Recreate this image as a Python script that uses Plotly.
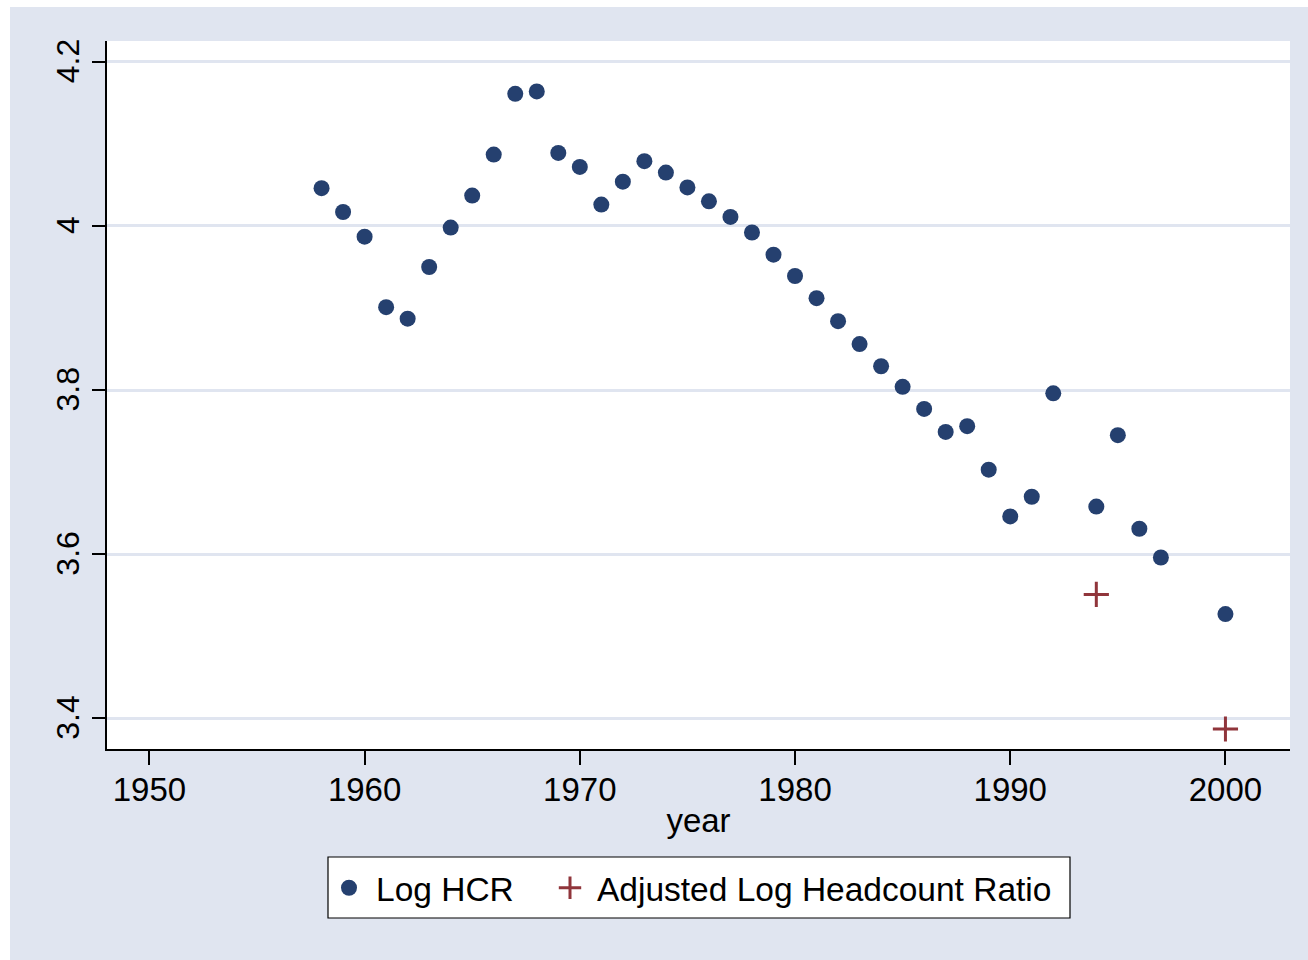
import plotly.graph_objects as go

# ---- data ----
years = [1958, 1959, 1960, 1961, 1962, 1963, 1964, 1965, 1966, 1967, 1968, 1969,
         1970, 1971, 1972, 1973, 1974, 1975, 1976, 1977, 1978, 1979, 1980, 1981,
         1982, 1983, 1984, 1985, 1986, 1987, 1988, 1989, 1990, 1991, 1992, 1994,
         1995, 1996, 1997, 2000]
log_hcr = [4.046, 4.017, 3.987, 3.901, 3.887, 3.950, 3.998, 4.037, 4.087, 4.161,
           4.164, 4.089, 4.072, 4.026, 4.054, 4.079, 4.065, 4.047, 4.030, 4.011,
           3.992, 3.965, 3.939, 3.912, 3.884, 3.856, 3.829, 3.804, 3.777, 3.749,
           3.756, 3.703, 3.646, 3.670, 3.796, 3.658, 3.745, 3.631, 3.596, 3.527]
adj_years = [1994, 2000]
adj_log_hcr = [3.551, 3.387]

x_ticks = [1950, 1960, 1970, 1980, 1990, 2000]
y_ticks = [3.4, 3.6, 3.8, 4.0, 4.2]
y_ticktext = ["3.4", "3.6", "3.8", "4", "4.2"]

# ---- style ----
W, H = 1308, 960
ML, MR, MT, MB = 107, 18, 41, 211
PW, PH = W - ML - MR, H - MT - MB
BG = "#E0E5F0"
NAVY = "#25406F"
CRAN = "#90353B"
FONT = "Liberation Sans, Arial, sans-serif"

def px2x(px):
    return (px - ML) / PW

def py2y(py):
    return (H - MB - py) / PH

fig = go.Figure()
fig.add_trace(go.Scatter(
    x=years, y=log_hcr, mode="markers", name="Log HCR", legend="legend",
    marker=dict(symbol="circle", size=16, color=NAVY, line=dict(width=0)),
))
fig.add_trace(go.Scatter(
    x=adj_years, y=adj_log_hcr, mode="markers", name="Adjusted Log Headcount Ratio",
    legend="legend2",
    marker=dict(symbol="cross-thin", size=18, color=CRAN,
                line=dict(width=3, color=CRAN)),
))

leg_common = dict(
    orientation="h", yanchor="middle", y=py2y(888), xanchor="left",
    bgcolor="rgba(0,0,0,0)", borderwidth=0,
    font=dict(family=FONT, size=33.5, color="black"), itemwidth=44,
)

fig.update_layout(
    width=W, height=H, autosize=False,
    margin=dict(l=ML, r=MR, t=MT, b=MB, pad=0),
    paper_bgcolor=BG, plot_bgcolor="white",
    font=dict(family=FONT, size=33, color="black"),
    showlegend=True,
    legend=dict(x=px2x(322), **leg_common),
    legend2=dict(x=px2x(543), **leg_common),
    xaxis=dict(
        range=[1948.03, 2003.0], tickmode="array", tickvals=x_ticks,
        ticks="outside", ticklen=14, tickwidth=1.5, tickcolor="black",
        showline=True, linecolor="black", linewidth=1.5, mirror=False,
        showgrid=False, zeroline=False,
        tickfont=dict(size=33), ticklabelstandoff=-3,
        title=dict(text="year", font=dict(size=33), standoff=2),
    ),
    yaxis=dict(
        range=[3.3626, 4.2254], tickmode="array", tickvals=y_ticks, ticktext=y_ticktext,
        tickangle=-90, ticklabelshift=4,
        ticks="outside", ticklen=13, tickwidth=1.5, tickcolor="black",
        showline=True, linecolor="black", linewidth=1.5, mirror=False,
        showgrid=True, gridcolor=BG, gridwidth=3, zeroline=False,
        tickfont=dict(size=32),
    ),
    shapes=[
        dict(type="rect", xref="paper", yref="paper", layer="above",
             x0=px2x(0), x1=px2x(10), y0=py2y(H), y1=py2y(0),
             fillcolor="white", line=dict(width=0)),
        dict(type="rect", xref="paper", yref="paper", layer="above",
             x0=px2x(0), x1=px2x(W), y0=py2y(7), y1=py2y(0),
             fillcolor="white", line=dict(width=0)),
        # legend frame
        dict(type="rect", xref="paper", yref="paper", layer="above",
             x0=px2x(328), x1=px2x(1070), y0=py2y(918), y1=py2y(857),
             fillcolor="white", line=dict(width=1.2, color="black")),
    ],
)

fig.write_html("out.html", config={"displayModeBar": False},
               post_script="document.body.style.margin='0';document.body.style.overflow='hidden';")
